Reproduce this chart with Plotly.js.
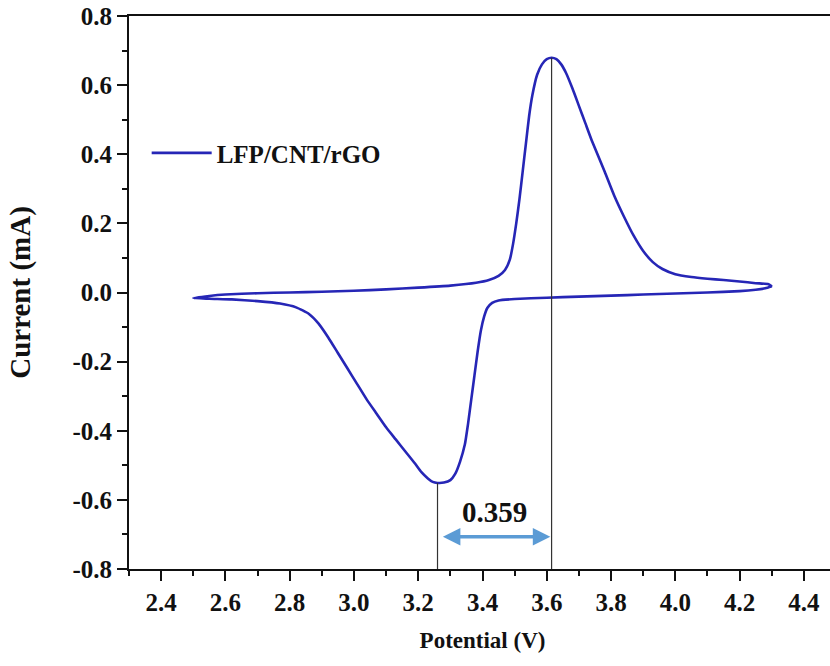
<!DOCTYPE html>
<html>
<head>
<meta charset="utf-8">
<script src="https://cdn.plot.ly/plotly-3.0.1.min.js"></script>
<style>
html,body{margin:0;padding:0;overflow:hidden;background:#fff;}
#chart{width:836px;height:666px;}
</style>
</head>
<body>
<div id="chart"></div>
<script>
// Anodic (forward) scan, 2.5 V -> 4.3 V
const anodicV = [2.50,2.55,2.60,2.70,2.80,2.90,3.00,3.10,3.20,3.30,3.38,3.42,3.45,3.47,3.485,3.495,3.505,3.515,3.525,3.535,3.545,3.555,3.57,3.585,3.60,3.615,3.63,3.645,3.66,3.68,3.70,3.72,3.74,3.78,3.81,3.84,3.87,3.90,3.93,3.96,4.00,4.05,4.10,4.15,4.20,4.25,4.29,4.30];
const anodicI = [-0.016,-0.010,-0.006,-0.002,0.000,0.002,0.005,0.009,0.014,0.020,0.028,0.036,0.048,0.065,0.095,0.14,0.20,0.27,0.35,0.43,0.51,0.57,0.63,0.66,0.675,0.679,0.675,0.66,0.635,0.59,0.54,0.49,0.44,0.35,0.28,0.22,0.165,0.12,0.088,0.068,0.053,0.045,0.040,0.036,0.032,0.027,0.024,0.018];
// Cathodic (reverse) scan, 4.3 V -> 2.5 V
const cathodicV = [4.30,4.28,4.25,4.20,4.10,4.00,3.90,3.80,3.70,3.60,3.50,3.45,3.43,3.415,3.405,3.395,3.385,3.375,3.365,3.355,3.345,3.33,3.315,3.30,3.28,3.26,3.245,3.23,3.21,3.19,3.16,3.13,3.10,3.07,3.04,3.01,2.98,2.95,2.92,2.89,2.86,2.82,2.77,2.70,2.62,2.55,2.50];
const cathodicI = [0.018,0.012,0.008,0.004,0.000,-0.003,-0.006,-0.009,-0.012,-0.015,-0.019,-0.023,-0.030,-0.045,-0.07,-0.11,-0.17,-0.24,-0.31,-0.38,-0.44,-0.49,-0.525,-0.543,-0.550,-0.551,-0.548,-0.538,-0.52,-0.495,-0.46,-0.425,-0.39,-0.35,-0.31,-0.265,-0.22,-0.175,-0.13,-0.09,-0.062,-0.043,-0.032,-0.025,-0.020,-0.018,-0.016];
const xTickVals = [2.4,2.6,2.8,3.0,3.2,3.4,3.6,3.8,4.0,4.2,4.4];
const xTickText = ['2.4','2.6','2.8','3.0','3.2','3.4','3.6','3.8','4.0','4.2','4.4'];
const yTickVals = [0.8,0.6,0.4,0.2,0.0,-0.2,-0.4,-0.6,-0.8];
const yTickText = ['0.8','0.6','0.4','0.2','0.0','-0.2','-0.4','-0.6','-0.8'];
const seriesName = 'LFP/CNT/rGO';
const peakSepLabel = '0.359';
const xTitle = 'Potential (V)';
const yTitle = 'Current (mA)';

const potential = anodicV.concat(cathodicV);
const current = anodicI.concat(cathodicI);

// peak positions from the data
let ia = 0; anodicI.forEach((v,i)=>{ if(v>anodicI[ia]) ia=i; });
let ic = 0; cathodicI.forEach((v,i)=>{ if(v<cathodicI[ic]) ic=i; });
const paV = anodicV[ia], paI = anodicI[ia];
const pcV = cathodicV[ic], pcI = cathodicI[ic];

const F = 'Liberation Serif';
const INK = '#111';
const XR = [2.3, 4.5], YR = [-0.8, 0.8];
const arrowY = -0.707;

const traces = [
  {x: potential, y: current, type: 'scatter', mode: 'lines', name: seriesName,
   line: {color: '#2626b6', width: 2.6, shape: 'spline', smoothing: 0.5}},
  {x: [], y: [], type: 'scatter', mode: 'lines', xaxis: 'x2', yaxis: 'y2', showlegend: false, hoverinfo: 'skip'}
];

const layout = {
  width: 836, height: 666,
  margin: {l: 129, r: 0, t: 16, b: 97},
  paper_bgcolor: '#fff', plot_bgcolor: '#fff',
  showlegend: true,
  legend: {x: 0.025, y: 0.752, xanchor: 'left', yanchor: 'middle', bgcolor: 'rgba(0,0,0,0)',
    font: {family: F, size: 25, color: INK, weight: 'bold'}, itemwidth: 60},
  xaxis: {
    range: XR, tickmode: 'array', tickvals: xTickVals, ticktext: xTickText,
    showline: true, linecolor: INK, linewidth: 2, mirror: true,
    ticks: 'outside', ticklen: 10, tickwidth: 2, tickcolor: INK,
    showgrid: false, zeroline: false,
    tickfont: {family: F, size: 25, color: INK, weight: 'bold'},
    title: {text: xTitle, font: {family: F, size: 23, color: INK, weight: 'bold'}, standoff: 17}
  },
  yaxis: {
    range: YR, tickmode: 'array', tickvals: yTickVals, ticktext: yTickText,
    showline: true, linecolor: INK, linewidth: 2, mirror: true,
    ticks: 'outside', ticklen: 10, tickwidth: 2, tickcolor: INK,
    showgrid: false, zeroline: false,
    tickfont: {family: F, size: 25, color: INK, weight: 'bold'},
    title: {text: yTitle, font: {family: F, size: 29, color: INK, weight: 'bold'}, standoff: 33}
  },
  // minor ticks on overlaying axes
  xaxis2: {overlaying: 'x', anchor: 'y', side: 'bottom', range: XR, tickmode: 'linear', tick0: 2.3, dtick: 0.1,
    ticks: 'outside', ticklen: 6, tickwidth: 2, tickcolor: INK, showticklabels: false,
    showgrid: false, zeroline: false, showline: false},
  yaxis2: {overlaying: 'y', anchor: 'x', side: 'left', range: YR, tickmode: 'linear', tick0: 0, dtick: 0.1,
    ticks: 'outside', ticklen: 6, tickwidth: 2, tickcolor: INK, showticklabels: false,
    showgrid: false, zeroline: false, showline: false},
  shapes: [
    {type: 'line', xref: 'x', yref: 'y', x0: pcV, x1: pcV, y0: pcI, y1: -0.8, line: {color: '#333', width: 1.2}},
    {type: 'line', xref: 'x', yref: 'y', x0: paV, x1: paV, y0: paI, y1: -0.8, line: {color: '#333', width: 1.2}}
  ],
  annotations: [
    {x: paV - 0.004, y: arrowY, ax: pcV + 0.012, ay: arrowY, xref: 'x', yref: 'y', axref: 'x', ayref: 'y',
     text: '', showarrow: true, arrowside: 'end+start', arrowhead: 2, arrowsize: 1, arrowwidth: 3.5, arrowcolor: '#5b9bd5'},
    {x: (paV + pcV) / 2, y: -0.635, xref: 'x', yref: 'y', text: peakSepLabel, showarrow: false,
     font: {family: F, size: 29, color: INK, weight: 'bold'}}
  ]
};

Plotly.newPlot('chart', traces, layout, {displayModeBar: false, staticPlot: true});
</script>
</body>
</html>
